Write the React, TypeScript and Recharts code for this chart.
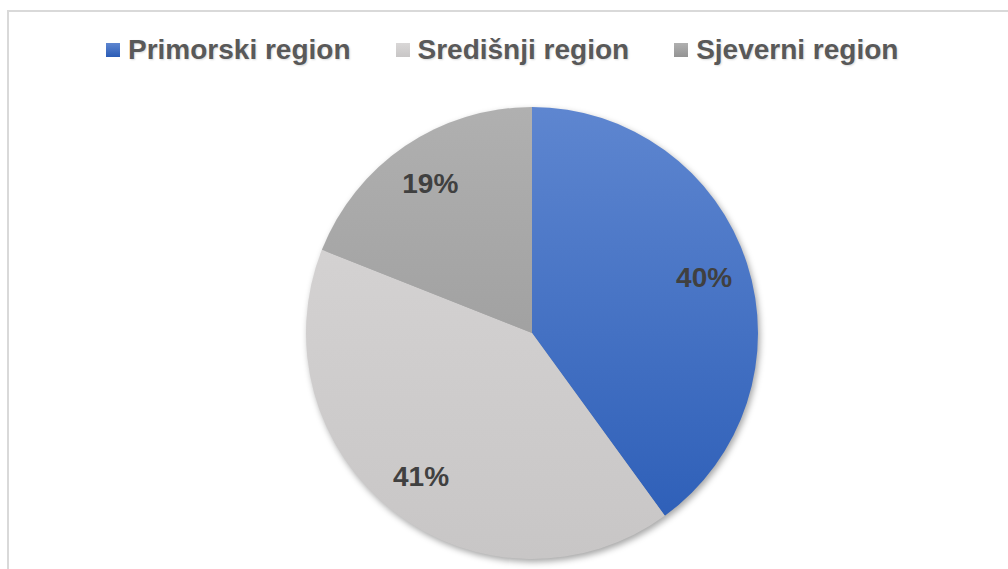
import { Cell, Pie, PieChart } from "recharts";

const regions = ["Primorski region", "Središnji region", "Sjeverni region"];
const shares = [40, 41, 19];

const data = regions.map((name, i) => ({ name, value: shares[i] }));

const grads = [
  { id: "gBlue", from: "#5e86d0", to: "#2a5cb6" },
  { id: "gLight", from: "#d9d7d7", to: "#c8c6c6" },
  { id: "gDark", from: "#b0b0b0", to: "#939393" },
];

const FONT = '"Liberation Sans", Arial, sans-serif';
const RAD = Math.PI / 180;

function renderLabel(p: any) {
  const r = 181;
  const x = p.cx + r * Math.cos(-p.midAngle * RAD);
  const y = p.cy + r * Math.sin(-p.midAngle * RAD);
  return (
    <text
      x={x}
      y={y}
      textAnchor="middle"
      dominantBaseline="central"
      fill="#404040"
      fontFamily={FONT}
      fontWeight="bold"
      fontSize={28}
    >
      {`${p.value}%`}
    </text>
  );
}

function LegendBox() {
  return (
    <div
      style={{
        position: "absolute",
        left: 106,
        top: 34,
        display: "flex",
        alignItems: "center",
        gap: 45,
        fontFamily: FONT,
        fontWeight: "bold",
        fontSize: 28,
        color: "#595959",
        lineHeight: "32px",
        textShadow: "1px 1px 2px rgba(0,0,0,0.15)",
      }}
    >
      {regions.map((r, i) => (
        <div key={r} style={{ display: "flex", alignItems: "center", gap: 8 }}>
          <span
            style={{
              display: "inline-block",
              width: 14,
              height: 14,
              background: `linear-gradient(${grads[i].from}, ${grads[i].to})`,
            }}
          />
          <span>{r}</span>
        </div>
      ))}
    </div>
  );
}

export default function App() {
  return (
    <div
      style={{
        position: "fixed",
        left: 0,
        top: 0,
        width: 1008,
        height: 569,
        overflow: "hidden",
        background: "#fff",
      }}
    >
      <style>{`.recharts-pie > .recharts-layer:not(.recharts-pie-labels){filter:drop-shadow(2px 3px 3px rgba(0,0,0,0.35));}`}</style>
      <div
        style={{
          position: "absolute",
          left: 7,
          top: 10,
          width: 1100,
          height: 700,
          borderTop: "2px solid #d9d9d9",
          borderLeft: "2px solid #d9d9d9",
          boxSizing: "border-box",
        }}
      />
      <div style={{ position: "absolute", left: 0, top: 0 }}>
        <PieChart width={1008} height={569} margin={{ top: 0, right: 0, bottom: 0, left: 0 }}>
          <defs>
            {grads.map((g) => (
              <linearGradient
                key={g.id}
                id={g.id}
                gradientUnits="userSpaceOnUse"
                x1={0}
                y1={107}
                x2={0}
                y2={559}
              >
                <stop offset="0" stopColor={g.from} />
                <stop offset="1" stopColor={g.to} />
              </linearGradient>
            ))}
          </defs>
          <Pie
            data={data}
            dataKey="value"
            nameKey="name"
            cx={532}
            cy={333}
            outerRadius={226}
            startAngle={90}
            endAngle={-270}
            stroke="none"
            label={renderLabel}
            labelLine={false}
            isAnimationActive={false}
          >
            {data.map((d, i) => (
              <Cell key={d.name} fill={`url(#${grads[i].id})`} />
            ))}
          </Pie>
        </PieChart>
      </div>
      <LegendBox />
    </div>
  );
}
